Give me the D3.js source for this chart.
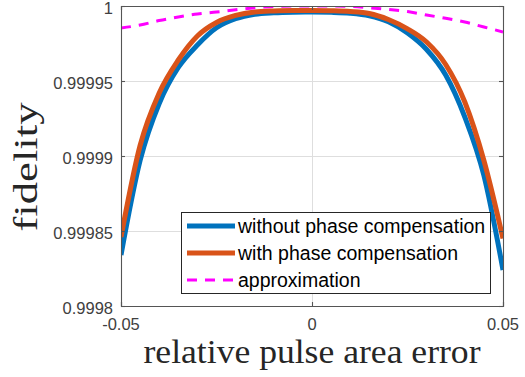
<!DOCTYPE html>
<html>
<head>
<meta charset="utf-8">
<script src="https://cdn.jsdelivr.net/npm/d3@7"></script>
<style>
  body { margin: 0; background: #fff; }
  svg { display: block; }
</style>
</head>
<body>
<div id="chart"></div>
<script>
// relative pulse area error (x) and fidelity curves
const errors = [-0.05, -0.045, -0.04, -0.035, -0.03, -0.025, -0.02, -0.015, -0.01, -0.005, 0,
  0.005, 0.01, 0.015, 0.02, 0.025, 0.03, 0.035, 0.04, 0.045, 0.05];
const withoutComp = [0.999834, 0.999897, 0.999935, 0.999959, 0.999974, 0.9999855, 0.9999915, 0.9999945, 0.9999955, 0.9999959, 0.999996,
  0.9999958, 0.9999952, 0.9999935, 0.9999895, 0.999982, 0.999971, 0.999954, 0.999926, 0.999887, 0.999824];
const withComp = [0.999846, 0.999907, 0.999942, 0.999964, 0.99998, 0.999989, 0.9999937, 0.999996, 0.9999967, 0.999997, 0.999997,
  0.9999968, 0.9999963, 0.999995, 0.999991, 0.9999848, 0.999976, 0.999961, 0.999936, 0.999897, 0.999845];
const approx = [0.9999853, 0.9999873, 0.9999903, 0.9999927, 0.9999947, 0.999996, 0.9999975, 0.9999988, 0.9999997, 1.0, 1.0,
  1.0, 0.9999997, 0.9999988, 0.9999977, 0.9999963, 0.999994, 0.9999918, 0.9999893, 0.999986, 0.9999827];

const xTicks = [-0.05, 0, 0.05];
const xTickLabels = ["-0.05", "0", "0.05"];
const yTicks = [0.9998, 0.99985, 0.9999, 0.99995, 1];
const yTickLabels = ["0.9998", "0.99985", "0.9999", "0.99995", "1"];
const seriesNames = ["without phase compensation", "with phase compensation", "approximation"];

const width = 525, height = 377;
const margin = {left: 121, right: 22, top: 6, bottom: 71};
const plotW = width - margin.left - margin.right;
const plotH = height - margin.top - margin.bottom;

const svg = d3.select("#chart").append("svg")
  .attr("width", width)
  .attr("height", height);

const x = d3.scaleLinear().domain([-0.05, 0.05]).range([margin.left, margin.left + plotW]);
const y = d3.scaleLinear().domain([0.9998, 1]).range([margin.top + plotH, margin.top]);

svg.append("clipPath").attr("id", "clip")
  .append("rect")
  .attr("x", margin.left).attr("y", margin.top)
  .attr("width", plotW).attr("height", plotH);

// grid
const grid = svg.append("g").attr("stroke", "#dedede").attr("stroke-width", 1);
xTicks.forEach(t => {
  grid.append("line")
    .attr("x1", Math.round(x(t)) + 0.5).attr("x2", Math.round(x(t)) + 0.5)
    .attr("y1", margin.top).attr("y2", margin.top + plotH);
});
yTicks.forEach(t => {
  grid.append("line")
    .attr("x1", margin.left).attr("x2", margin.left + plotW)
    .attr("y1", Math.round(y(t)) + 0.5).attr("y2", Math.round(y(t)) + 0.5);
});

// curves
const series = [
  {values: withoutComp, color: "#0072BD", width: 5, dash: null},
  {values: withComp, color: "#D95319", width: 5, dash: null},
  {values: approx, color: "#FF00FF", width: 3, dash: "10,8"}
];

const line = d3.line()
  .x(d => x(d[0]))
  .y(d => y(d[1]))
  .curve(d3.curveMonotoneX);

const lines = svg.append("g").attr("clip-path", "url(#clip)");
series.forEach(s => {
  lines.append("path")
    .datum(errors.map((e, i) => [e, s.values[i]]))
    .attr("fill", "none")
    .attr("stroke", s.color)
    .attr("stroke-width", s.width)
    .attr("stroke-dasharray", s.dash)
    .attr("d", line);
});

// axes box with inward ticks
const xAxisB = d3.axisBottom(x).tickValues(xTicks).tickSize(-4).tickFormat(() => "");
const xAxisT = d3.axisTop(x).tickValues(xTicks).tickSize(-4).tickFormat(() => "");
const yAxisL = d3.axisLeft(y).tickValues(yTicks).tickSize(-4).tickFormat(() => "");
const yAxisR = d3.axisRight(y).tickValues(yTicks).tickSize(-4).tickFormat(() => "");

svg.append("g").attr("transform", `translate(0,${margin.top + plotH})`).call(xAxisB);
svg.append("g").attr("transform", `translate(0,${margin.top})`).call(xAxisT);
svg.append("g").attr("transform", `translate(${margin.left},0)`).call(yAxisL);
svg.append("g").attr("transform", `translate(${margin.left + plotW},0)`).call(yAxisR);
svg.selectAll(".domain, .tick line").attr("stroke", "#555").attr("stroke-width", 1.1);

// tick labels
svg.append("g").selectAll("text")
  .data(xTicks)
  .enter().append("text")
  .attr("x", d => x(d))
  .attr("y", margin.top + plotH + 24)
  .attr("text-anchor", "middle")
  .attr("font-family", "Liberation Sans, Arial, sans-serif")
  .attr("font-size", 16.5)
  .attr("fill", "#404040")
  .text((d, i) => xTickLabels[i]);

svg.append("g").selectAll("text")
  .data(yTicks)
  .enter().append("text")
  .attr("x", margin.left - 8)
  .attr("y", d => y(d) + 8)
  .attr("text-anchor", "end")
  .attr("font-family", "Liberation Sans, Arial, sans-serif")
  .attr("font-size", 16.5)
  .attr("fill", "#404040")
  .text((d, i) => yTickLabels[i]);

// axis labels
svg.append("text")
  .attr("x", 312)
  .attr("y", 363)
  .attr("text-anchor", "middle")
  .attr("font-family", "Liberation Serif, Times New Roman, serif")
  .attr("font-size", 33)
  .attr("fill", "#262626")
  .attr("textLength", 337)
  .attr("lengthAdjust", "spacingAndGlyphs")
  .text("relative pulse area error");

svg.append("text")
  .attr("transform", "translate(37,167) rotate(-90)")
  .attr("text-anchor", "middle")
  .attr("font-family", "Liberation Serif, Times New Roman, serif")
  .attr("font-size", 33)
  .attr("fill", "#262626")
  .attr("textLength", 129)
  .attr("lengthAdjust", "spacingAndGlyphs")
  .text("fidelity");

// legend
const legend = svg.append("g");
legend.append("rect")
  .attr("x", 181.5).attr("y", 212.5)
  .attr("width", 309).attr("height", 81)
  .attr("fill", "#fff")
  .attr("stroke", "#262626")
  .attr("stroke-width", 1);

const rowY = [226, 253, 280];
series.forEach((s, i) => {
  legend.append("line")
    .attr("x1", 187).attr("x2", 235)
    .attr("y1", rowY[i]).attr("y2", rowY[i])
    .attr("stroke", s.color)
    .attr("stroke-width", s.width)
    .attr("stroke-dasharray", s.dash);
  legend.append("text")
    .attr("x", 238)
    .attr("y", rowY[i] + 7)
    .attr("font-family", "Liberation Sans, Arial, sans-serif")
    .attr("font-size", 19.5)
    .attr("fill", "#000")
    .text(seriesNames[i]);
});
</script>
</body>
</html>
